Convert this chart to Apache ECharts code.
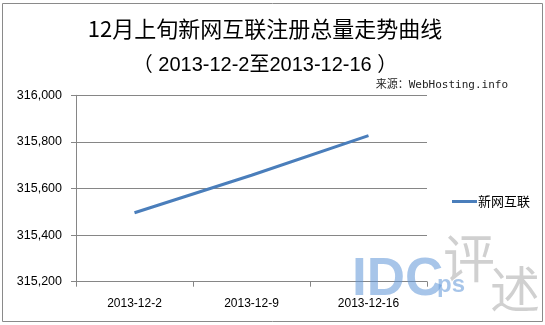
<!DOCTYPE html>
<html><head><meta charset="utf-8">
<script src="https://cdn.jsdelivr.net/npm/echarts@6/dist/echarts.min.js"></script>
<style>html,body{margin:0;padding:0;background:#fff}#c{width:545px;height:325px}</style>
</head><body><div id="c"></div>
<script>
const categories = ['2013-12-2', '2013-12-9', '2013-12-16'];
const seriesName = '新网互联';
const values = [315496, 315657, 315827];
const yTicks = [315200, 315400, 315600, 315800, 316000];
const titleText = '12月上旬新网互联注册总量走势曲线';
const subtitleText = '（ 2013-12-2至2013-12-16 ）';
const sourceText = '来源：WebHosting.info';

const chart = echarts.init(document.getElementById('c'), null, {renderer: 'canvas'});
const fmt = v => v.toLocaleString('en-US');
chart.setOption({
  backgroundColor: '#fff',
  animation: false,
  title: [
    {text: titleText, left: 260, top: 13, textAlign: 'center',
     textStyle: {fontFamily: '"Noto Sans CJK SC", serif', fontSize: 22, fontWeight: 'normal', color: '#000'}},
    {text: subtitleText, left: 260, top: 50, textAlign: 'center',
     textStyle: {fontFamily: '"Liberation Sans", "Noto Sans CJK SC", Arial', fontSize: 20, fontWeight: 'normal', color: '#000'}},
    {text: sourceText, right: 32, top: 75,
     textStyle: {fontFamily: '"DejaVu Sans Mono", "Noto Sans CJK SC", monospace', fontSize: 11, fontWeight: 'normal', color: '#222'}}
  ],
  legend: {
    data: [seriesName], left: 447, top: 190, orient: 'vertical',
    itemWidth: 25, itemHeight: 3, itemGap: 4,
    icon: 'rect',
    textStyle: {fontFamily: '"Noto Sans CJK SC", sans-serif', fontSize: 13, color: '#000', padding: [0,0,0,-4]}
  },
  grid: {left: 76, right: 118, top: 95.3, bottom: 43.3, containLabel: false},
  xAxis: {
    type: 'category', data: categories, boundaryGap: true,
    axisLine: {lineStyle: {color: '#868686', width: 1}},
    axisTick: {show: true, alignWithLabel: false, length: 5, lineStyle: {color: '#868686'}},
    axisLabel: {fontFamily: '"Liberation Sans", Arial', fontSize: 12, color: '#000', margin: 16}
  },
  yAxis: {
    type: 'value', min: yTicks[0], max: yTicks[yTicks.length-1], interval: 200,
    axisLine: {show: true, lineStyle: {color: '#868686'}},
    axisTick: {show: true, length: 5, lineStyle: {color: '#868686'}},
    splitLine: {lineStyle: {color: '#868686', width: 1}},
    axisLabel: {fontFamily: '"Liberation Sans", Arial', fontSize: 12.5, color: '#000', margin: 14, formatter: fmt}
  },
  series: [{
    name: seriesName, type: 'line', data: values,
    symbol: 'none', lineStyle: {color: '#4a7ebb', width: 3}, itemStyle: {color: '#4a7ebb'}
  }],
  graphic: [
    {type: 'rect', shape: {x: 2.5, y: 3.5, width: 540, height: 318}, style: {fill: 'none', stroke: '#8a8a8a', lineWidth: 1}, z: 100},
    {type: 'text', left: 352, top: 254, style: {text: 'IDC', font: 'bold 53px "Liberation Sans", Arial', fill: 'rgba(95,150,215,0.55)'}, z: 50},
    {type: 'text', left: 437, top: 273, style: {text: 'ps', font: 'bold 24px "Liberation Sans", Arial', fill: 'rgba(95,150,215,0.55)'}, z: 50},
    {type: 'text', left: 443, top: 232, style: {text: '评', font: '52px "Noto Sans CJK SC"', fill: 'rgba(150,150,150,0.45)'}, z: 50},
    {type: 'text', left: 490, top: 264, style: {text: '述', font: '50px "Noto Sans CJK SC"', fill: 'rgba(150,150,150,0.45)'}, z: 50}
  ]
});
</script></body></html>
